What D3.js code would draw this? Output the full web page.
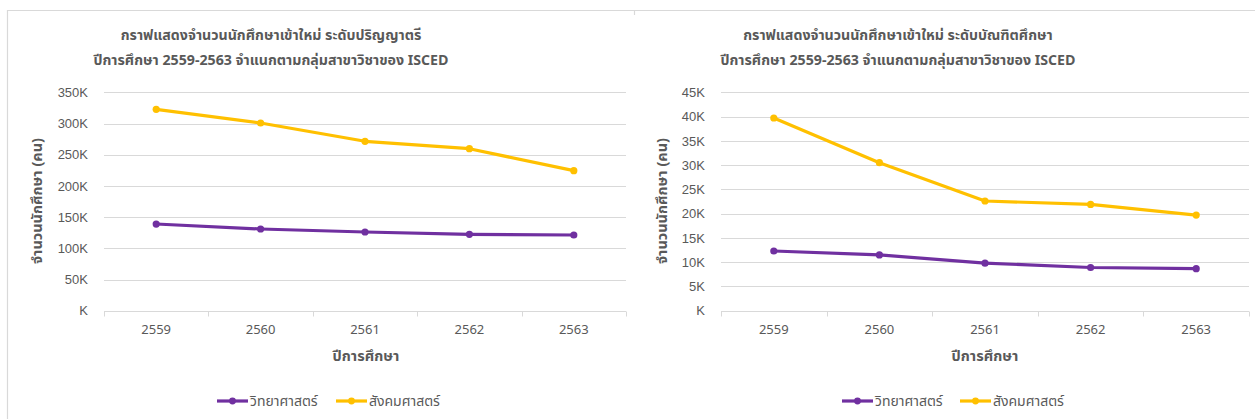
<!DOCTYPE html>
<html>
<head>
<meta charset="utf-8">
<script src="https://cdn.jsdelivr.net/npm/d3@7"></script>
<style>
  html, body { margin: 0; padding: 0; background: #fff; }
  svg { display: block; font-family: "Noto Sans Thai", "Noto Sans", "DejaVu Sans", sans-serif; }
</style>
</head>
<body>
<svg id="chart" width="1255" height="419"></svg>
<script>
// Academic years (Buddhist Era)
const years = ["2559", "2560", "2561", "2562", "2563"];

// Series names
const seriesNames = ["วิทยาศาสตร์", "สังคมศาสตร์"];
const seriesColors = ["#7030A0", "#FFC000"];

// New bachelor-level students
const bachelorScience = [138900, 130900, 126100, 122400, 121300];
const bachelorSocial = [322700, 300800, 271500, 259600, 224400];

// New graduate-level students
const gradScience = [12300, 11500, 9800, 8900, 8650];
const gradSocial = [39700, 30500, 22600, 21900, 19700];

// Y tick values
const bachelorTicks = [0, 50000, 100000, 150000, 200000, 250000, 300000, 350000];
const gradTicks = [0, 5000, 10000, 15000, 20000, 25000, 30000, 35000, 40000, 45000];

const titlesBachelor = ["กราฟแสดงจำนวนนักศึกษาเข้าใหม่ ระดับปริญญาตรี", "ปีการศึกษา 2559-2563 จำแนกตามกลุ่มสาขาวิชาของ ISCED"];
const titlesGrad = ["กราฟแสดงจำนวนนักศึกษาเข้าใหม่ ระดับบัณฑิตศึกษา", "ปีการศึกษา 2559-2563 จำแนกตามกลุ่มสาขาวิชาของ ISCED"];
const yTitle = "จำนวนนักศึกษา (คน)";
const xTitle = "ปีการศึกษา";

const svg = d3.select("#chart");
const textColor = "#595959";
const gridColor = "#d9d9d9";

// Frame lines
svg.append("line").attr("x1", 7).attr("x2", 1255).attr("y1", 10.5).attr("y2", 10.5)
  .attr("stroke", gridColor).attr("stroke-width", 1.2);
svg.append("line").attr("x1", 7.5).attr("x2", 7.5).attr("y1", 10).attr("y2", 419)
  .attr("stroke", gridColor).attr("stroke-width", 1.2);
svg.append("line").attr("x1", 634.5).attr("x2", 634.5).attr("y1", 10).attr("y2", 15)
  .attr("stroke", gridColor).attr("stroke-width", 1.2);

const fmtK = v => (v === 0 ? "" : d3.format("d")(v / 1000)) + "K";

function drawChart(cfg) {
  const g = svg.append("g");
  const x = d3.scaleBand().domain(years).range([cfg.left, cfg.right]);
  const y = d3.scaleLinear().domain([0, cfg.max]).range([310.7, 92.3]);

  // Title
  cfg.titles.forEach((t, i) => {
    g.append("text").attr("x", cfg.titleX).attr("y", 35 + i * 25)
      .attr("text-anchor", "middle").attr("dominant-baseline", "central")
      .attr("font-size", 14.2).attr("font-weight", "bold").attr("fill", textColor).text(t);
  });

  // Gridlines
  g.append("g").selectAll("line").data(cfg.ticks.slice(1)).join("line")
    .attr("x1", cfg.left).attr("x2", cfg.right)
    .attr("y1", d => Math.round(y(d)) + 0.5).attr("y2", d => Math.round(y(d)) + 0.5)
    .attr("stroke", gridColor).attr("stroke-width", 1);

  // Y axis labels
  const ya = g.append("g").attr("transform", `translate(${cfg.left},0)`)
    .call(d3.axisLeft(y).tickValues(cfg.ticks).tickFormat(fmtK).tickSize(0).tickPadding(16));
  ya.select(".domain").remove();
  ya.selectAll("text").attr("font-size", 13).attr("fill", textColor).attr("font-family", null);

  // X axis with ticks at band edges
  const base = Math.round(y(0)) + 0.5;
  g.append("line").attr("x1", cfg.left).attr("x2", cfg.right).attr("y1", base).attr("y2", base)
    .attr("stroke", gridColor).attr("stroke-width", 1);
  const edges = years.map(d => x(d)).concat([cfg.right]);
  g.append("g").selectAll("line").data(edges).join("line")
    .attr("x1", d => Math.round(d) + 0.5).attr("x2", d => Math.round(d) + 0.5)
    .attr("y1", base).attr("y2", base + 5)
    .attr("stroke", gridColor).attr("stroke-width", 1);
  g.append("g").selectAll("text").data(years).join("text")
    .attr("x", d => x(d) + x.bandwidth() / 2).attr("y", 330)
    .attr("text-anchor", "middle").attr("dominant-baseline", "central")
    .attr("font-size", 13).attr("fill", textColor).text(d => d);

  // Axis titles
  g.append("text").attr("x", cfg.xTitleX).attr("y", 357)
    .attr("text-anchor", "middle").attr("dominant-baseline", "central")
    .attr("font-size", 14.5).attr("font-weight", "bold").attr("fill", textColor).text(xTitle);
  g.append("text").attr("transform", `translate(${cfg.yTitleX},201) rotate(-90)`)
    .attr("text-anchor", "middle").attr("dominant-baseline", "central")
    .attr("font-size", 14.5).attr("font-weight", "bold").attr("fill", textColor).text(yTitle);

  // Lines and markers
  const line = d3.line().x((d, i) => x(years[i]) + x.bandwidth() / 2).y(d => y(d));
  cfg.series.forEach((s, k) => {
    g.append("path").datum(s).attr("d", line).attr("fill", "none")
      .attr("stroke", seriesColors[k]).attr("stroke-width", 3.2).attr("stroke-linejoin", "round");
    g.append("g").selectAll("circle").data(s).join("circle")
      .attr("cx", (d, i) => x(years[i]) + x.bandwidth() / 2).attr("cy", d => y(d))
      .attr("r", 3.6).attr("fill", seriesColors[k]);
  });

  // Legend
  cfg.legend.forEach((lx, k) => {
    const lg = g.append("g").attr("transform", `translate(${lx},401)`);
    lg.append("line").attr("x1", 0).attr("x2", 31).attr("y1", 0).attr("y2", 0)
      .attr("stroke", seriesColors[k]).attr("stroke-width", 3.2);
    lg.append("circle").attr("cx", 15.5).attr("cy", 0).attr("r", 3.4).attr("fill", seriesColors[k]);
    lg.append("text").attr("x", 33).attr("y", 0).attr("dominant-baseline", "central")
      .attr("font-size", 14).attr("fill", textColor).text(seriesNames[k]);
  });
}

drawChart({
  left: 104, right: 626, max: 350000, ticks: bachelorTicks,
  series: [bachelorScience, bachelorSocial], titles: titlesBachelor,
  titleX: 271, xTitleX: 366, yTitleX: 38, legend: [217, 336]
});

drawChart({
  left: 721, right: 1249, max: 45000, ticks: gradTicks,
  series: [gradScience, gradSocial], titles: titlesGrad,
  titleX: 898, xTitleX: 985, yTitleX: 663, legend: [842, 960]
});
</script>
</body>
</html>
